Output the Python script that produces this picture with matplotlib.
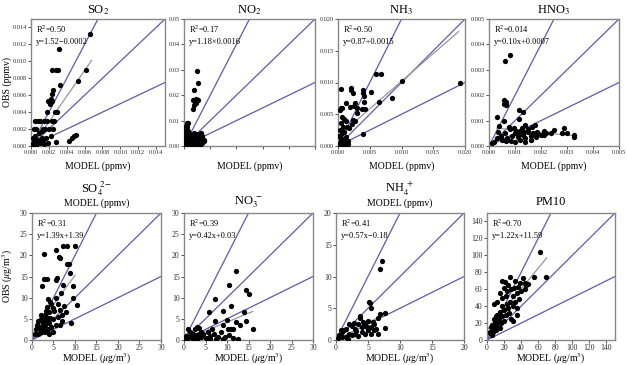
import numpy as np
import matplotlib
matplotlib.use("Agg")
from matplotlib import pyplot as plt

plt.rcParams['font.family'] = ['Liberation Serif', 'DejaVu Serif']
plt.rcParams['mathtext.fontset'] = 'stix'

# points (row 1 in 1e-3 ppmv, HNO3 in 1e-4 ppmv)
so2_pts = [(6.6, 13.2), (3.1, 11.5), (2.3, 9.0), (2.8, 9.0), (3.0, 9.0), (6.2, 9.0), (5.3, 7.7), (3.3, 7.2),
           (2.5, 6.6), (2.4, 6.1), (2.2, 5.6), (1.9, 5.3), (2.1, 5.0), (2.3, 5.3), (1.8, 4.0), (2.7, 4.0),
           (2.9, 4.0), (0.4, 3.0), (0.8, 3.0), (1.0, 3.0), (1.4, 3.0), (1.8, 3.0), (2.3, 3.0), (2.6, 3.0),
           (0.3, 2.0), (0.6, 2.0), (1.3, 2.0), (1.6, 2.0), (2.0, 2.0), (2.5, 2.0), (4.8, 1.2), (4.6, 1.0),
           (4.3, 0.6), (5.0, 1.3), (0.2, 1.0), (0.5, 1.2), (0.9, 1.5), (1.2, 1.0), (1.5, 0.8), (0.3, 0.5),
           (0.7, 0.3), (1.1, 0.6), (1.7, 0.9), (2.2, 1.2), (0.1, 0.2), (0.4, 0.4), (0.8, 0.7), (1.0, 0.3),
           (1.4, 0.2), (0.2, 0.1), (0.6, 0.1), (2.8, 0.5), (1.9, 0.3), (0.5, 0.8), (1.2, 1.8)]
no2_pts = [(4.8, 29.5), (5.2, 25.0), (3.9, 22.0), (4.4, 18.4), (5.3, 18.3), (3.5, 18.0), (4.0, 16.3), (3.5, 14.7),
           (4.6, 16.8), (1.0, 9.0), (1.5, 9.0), (0.8, 8.0), (1.2, 7.5), (0.9, 6.5), (1.4, 6.0), (0.7, 5.5),
           (1.1, 5.0), (2.0, 5.0), (3.0, 4.5), (4.0, 5.0), (5.5, 4.8), (6.5, 5.0), (7.0, 4.0), (6.0, 3.0),
           (7.5, 2.5), (5.0, 2.0), (4.0, 3.5), (3.0, 2.0), (2.0, 3.0), (1.0, 3.5), (0.5, 2.0), (1.5, 1.0),
           (2.5, 1.5), (3.5, 1.0), (4.5, 1.0), (6.5, 1.5), (7.0, 1.0), (0.3, 0.5), (1.0, 0.3), (2.0, 0.5),
           (3.0, 0.3), (5.0, 0.5), (6.0, 0.3), (0.5, 4.0), (2.5, 4.0), (3.5, 2.8), (4.8, 3.8), (5.8, 2.2),
           (1.8, 2.2), (0.2, 1.2), (6.8, 3.2), (7.8, 1.8)]
nh3_pts = [(19.2, 10.0), (10.0, 10.3), (8.5, 7.6), (6.4, 7.0), (6.0, 11.4), (6.7, 11.4), (3.9, 1.9), (5.2, 8.5),
           (3.9, 8.8), (3.9, 8.3), (4.1, 7.8), (4.1, 7.0), (4.3, 5.8), (3.8, 5.8), (2.0, 9.1), (2.1, 8.8),
           (2.3, 8.3), (0.4, 8.9), (1.2, 6.8), (1.9, 6.2), (2.5, 6.3), (2.6, 6.8), (3.0, 6.0), (0.5, 6.0),
           (0.3, 5.7), (0.7, 6.0), (3.0, 5.2), (2.4, 4.1), (2.7, 4.0), (0.6, 4.5), (0.9, 4.3), (0.5, 3.6),
           (0.8, 3.0), (1.4, 3.0), (1.2, 4.0), (0.3, 2.5), (0.6, 2.0), (1.0, 2.2), (0.2, 1.5), (0.5, 1.2),
           (0.8, 1.0), (1.2, 1.4), (0.3, 0.5), (0.7, 0.3), (1.0, 0.6), (1.5, 0.3), (0.1, 0.2), (1.6, 0.8),
           (0.4, 0.9), (0.9, 0.1), (1.8, 2.8), (2.2, 3.5)]
hno3_pts = [(8.0, 35.8), (6.0, 33.5), (5.8, 18.3), (6.4, 17.5), (5.9, 16.5), (6.5, 16.3), (3.2, 11.6), (5.9, 10.0),
            (11.7, 14.3), (13.2, 13.2), (11.7, 10.8), (13.8, 8.2), (17.7, 8.3), (12.8, 7.1), (29, 7.0), (32.5, 4.5),
            (32.5, 3.5), (28, 5.2), (30, 5.2), (24, 5.3), (21, 5.8), (21, 4.5), (19, 4.6), (17, 5.0), (16, 4.0),
            (15, 5.5), (14, 3.0), (13, 4.5), (12, 5.8), (11, 3.5), (10, 5.0), (9, 4.0), (8, 6.5), (7, 3.0),
            (6, 5.0), (5, 2.5), (4, 7.8), (4.5, 4.0), (3, 3.0), (2, 1.5), (1, 1.0), (8.5, 2.0), (10, 1.5),
            (12, 2.5), (14, 1.5), (16, 2.5), (18, 3.5), (20, 4.2), (22, 5.0), (25, 6.3), (9.5, 7.0), (10.5, 6.0),
            (15, 6.5), (16.5, 7.5), (7.5, 7.5), (6.5, 2.0), (3.5, 5.5), (18.5, 5.5), (13.5, 5.5), (11.2, 4.5)]
so4_pts = [(10, 22.3), (7.1, 22.1), (8.1, 22.1), (2.7, 20.2), (5.5, 21.2), (6.2, 19.6), (6.4, 19.4), (8.1, 17.9),
           (8.5, 17.9), (8.9, 15.9), (2.7, 14.5), (3.4, 14.5), (5.8, 14.7), (5.6, 14.1), (2.3, 12.8), (9.6, 12.8),
           (7.3, 13.0), (10.4, 8.2), (9.6, 10.0), (3.8, 9.6), (9.0, 4.1), (6.8, 11.0), (5.5, 10.0), (4.5, 8.5),
           (7.5, 8.0), (8.0, 6.5), (6.5, 7.0), (4.8, 7.5), (3.5, 7.8), (6.0, 5.5), (7.0, 4.5), (5.0, 5.0),
           (4.0, 6.5), (3.0, 6.0), (2.5, 5.5), (2.0, 5.0), (1.5, 4.5), (1.2, 3.5), (1.0, 2.5), (2.0, 3.0),
           (2.5, 4.0), (3.0, 3.5), (3.5, 4.5), (4.0, 4.0), (4.5, 3.0), (3.8, 2.5), (3.0, 2.0), (2.2, 1.8),
           (1.5, 1.5), (0.8, 1.5), (1.8, 2.5), (2.8, 5.0), (3.3, 6.8), (4.3, 5.3), (5.5, 3.5), (6.5, 3.5),
           (5.0, 2.0), (4.0, 1.5), (1.5, 3.0), (2.5, 2.5), (3.5, 1.8), (6.0, 8.5), (7.0, 6.0), (4.2, 9.0),
           (5.2, 6.8), (2.0, 6.0), (3.2, 5.5), (2.7, 3.2)]
no3_pts = [(12.2, 16.3), (10.4, 13.0), (14.5, 11.9), (15.0, 10.8), (11.0, 8.0), (7.3, 9.7), (5.8, 6.6), (9.1, 6.8),
           (13.9, 6.7), (7.3, 4.6), (9.9, 4.7), (12.2, 4.3), (14.4, 4.6), (13.1, 3.5), (10.9, 2.6), (10.2, 2.5),
           (11.5, 2.6), (16.1, 2.5), (9.1, 3.5), (8.5, 2.0), (7.0, 1.5), (6.0, 1.0), (5.0, 0.5), (4.0, 0.8),
           (3.0, 1.0), (8.0, 0.6), (9.5, 0.8), (10.5, 1.2), (11.5, 0.5), (12.5, 0.3), (2.5, 2.5), (3.0, 3.0),
           (3.5, 2.8), (2.0, 1.5), (1.5, 2.0), (1.0, 2.5), (0.5, 1.0), (1.0, 0.5), (2.0, 0.3), (3.0, 0.2),
           (4.0, 2.0), (4.5, 1.5), (5.5, 2.0), (6.5, 2.5), (1.5, 1.0), (0.3, 0.3), (2.5, 1.2), (3.5, 1.5),
           (7.5, 0.3), (6.0, 0.2), (9.0, 0.2)]
nh4_pts = [(7.2, 12.5), (6.9, 11.2), (5.1, 6.0), (5.3, 5.8), (5.4, 5.0), (7.6, 4.2), (6.8, 4.1), (3.8, 3.8),
           (3.7, 3.4), (7.6, 1.9), (6.5, 1.0), (6.5, 3.5), (6.0, 2.5), (5.5, 2.0), (5.0, 3.0), (4.5, 2.5),
           (4.0, 2.0), (3.5, 2.5), (3.0, 1.8), (2.5, 2.2), (2.0, 2.5), (1.5, 1.8), (1.0, 1.2), (0.5, 0.8),
           (1.0, 0.5), (2.0, 1.0), (3.0, 1.0), (4.0, 1.2), (5.0, 1.5), (5.5, 1.0), (6.0, 1.5), (0.3, 0.3),
           (1.5, 0.5), (2.5, 0.8), (3.5, 0.6), (4.5, 0.9), (1.2, 1.6), (2.8, 2.6), (4.2, 2.8), (5.8, 2.8),
           (0.8, 1.5), (1.8, 0.2), (3.2, 1.4), (4.8, 2.0), (6.2, 1.8)]
pm10_pts = [(62, 104), (69, 75), (55, 75), (27, 75), (18, 70), (21, 69), (42, 73), (38.5, 67), (44, 67), (46, 65),
            (48, 66), (36, 63), (32, 61), (28, 60), (24, 58), (20, 62), (15, 55), (17, 50), (22, 52), (30, 52),
            (35, 55), (40, 58), (45, 60), (33, 45), (38, 48), (27, 45), (23, 43), (18, 40), (25, 38), (30, 40),
            (35, 38), (20, 35), (15, 33), (12, 30), (10, 28), (8, 25), (14, 25), (18, 28), (22, 30), (26, 32),
            (9, 20), (12, 20), (16, 20), (20, 22), (6, 18), (5, 15), (8, 14), (12, 15), (4, 10), (7, 10),
            (10, 12), (3, 8), (6, 6), (15, 14), (10, 18), (28, 25), (35, 30), (30, 22), (12, 45), (8, 42),
            (25, 65), (33, 70)]

titles = [r"SO$_2$", r"NO$_2$", r"NH$_3$", r"HNO$_3$",
          r"SO$_4^{\ 2-}$", r"NO$_3^{\ -}$", r"NH$_4^{\ +}$", "PM10"]
points = [so2_pts, no2_pts, nh3_pts, hno3_pts, so4_pts, no3_pts, nh4_pts, pm10_pts]
scales = [1e-3, 1e-3, 1e-3, 1e-4, 1, 1, 1, 1]
limits = [0.015, 0.05, 0.02, 0.005, 30, 30, 20, 150]
tick_steps = [0.002, 0.01, 0.005, 0.001, 5, 5, 5, 20]
tick_fmt = ["%.3f", "%.2f", "%.3f", "%.3f", "%d", "%d", "%d", "%d"]
r2_text = ["0.50", "0.17", "0.50", "0.014", "0.31", "0.39", "0.41", "0.70"]
eq_text = ["y=1.52\u22120.0002", "y=1.18\u00d70.0016", "y=0.87+0.0015", "y=0.10x+0.0007",
           "y=1.39x+1.39", "y=0.42x+0.03", "y=0.57x\u22120.18", "y=1.22x+11.59"]
# regression line as drawn (slope, intercept, x start, x end); None = not visible
fits = [(1.52, -0.0002, 0.0002, 0.0068), None, (0.87, 0.0015, 0.0, 0.019), (-0.10, 0.00073, 0.0003, 0.0033),
        (1.39, 1.39, 0.3, 10), (0.42, 0.03, 0.0, 16), (0.57, -0.18, 0.5, 7.6), (1.22, 11.59, 0.0, 70)]
ref_slopes = [2, 1, 0.5]

# axes boxes in pixels: left, right, top, bottom
boxes = [(31, 165, 19, 146), (184, 315, 19, 146), (338, 465, 19, 146), (489, 619, 19, 146),
         (32, 161, 213, 340), (184, 313, 213, 340), (336, 464, 213, 340), (487, 615, 213, 340)]

W, H = 627, 365
fig = plt.figure(figsize=(W / 100, H / 100), dpi=100)
blue = '#5c5ca8'

for i in range(8):
    l, r, t, b = boxes[i]
    ax = fig.add_axes([l / W, 1 - b / H, (r - l) / W, (b - t) / H])
    lim = limits[i]
    for s in ref_slopes:
        xe = min(lim, lim / s)
        ax.plot([0, xe], [0, s * xe], color=blue, lw=0.9, zorder=1)
    if fits[i] is not None:
        m, c, x0, x1 = fits[i]
        ax.plot([x0, x1], [m * x0 + c, m * x1 + c], color='#999999', lw=0.9, zorder=2)
    pts = np.array(points[i]) * scales[i]
    ax.plot(pts[:, 0], pts[:, 1], 'o', color='black', ms=3.8, mew=0, zorder=3)
    ax.set_xlim(0, lim)
    ax.set_ylim(0, lim)
    ticks = np.arange(0, lim + 1e-9, tick_steps[i])
    ax.set_xticks(ticks)
    ax.set_yticks(ticks)
    ax.xaxis.set_major_formatter(matplotlib.ticker.FormatStrFormatter(tick_fmt[i]))
    ax.yaxis.set_major_formatter(matplotlib.ticker.FormatStrFormatter(tick_fmt[i]))
    fs = 4.6 if i < 4 else 5.6
    ax.tick_params(labelsize=fs, length=2, width=0.6, pad=1.2, colors='#333333')
    if i == 1:
        ax.set_xticklabels([])
    for sp in ax.spines.values():
        sp.set_color('#888888')
        sp.set_linewidth(1.0)
    ax.text(0.04, 0.96, "R$^2$=" + r2_text[i], transform=ax.transAxes, fontsize=6, va='top')
    ax.text(0.04, 0.85, eq_text[i], transform=ax.transAxes, fontsize=6, va='top')
    cx = (l + r) / 2 / W
    if i < 4:
        fig.text(cx, 1 - 10 / H, titles[i], ha='center', va='center', fontsize=9)
        fig.text(cx, 1 - 166 / H, "MODEL (ppmv)", ha='center', va='center', fontsize=7)
    else:
        if i in (4, 6):
            fig.text(cx, 1 - 189 / H, titles[i], ha='center', va='center', fontsize=9)
            fig.text(cx, 1 - 203 / H, "MODEL (ppmv)", ha='center', va='center', fontsize=7)
        else:
            fig.text(cx, 1 - 202 / H, titles[i], ha='center', va='center', fontsize=9)
        fig.text(cx, 1 - 359 / H, r"MODEL ($\mu$g/m$^3$)", ha='center', va='center', fontsize=7)

fig.text(7 / W, 1 - 82 / H, "OBS (ppmv)", rotation=90, ha='center', va='center', fontsize=7)
fig.text(8 / W, 1 - 276 / H, r"OBS ($\mu$g/m$^3$)", rotation=90, ha='center', va='center', fontsize=7)

fig.savefig("out.png", dpi=100)
